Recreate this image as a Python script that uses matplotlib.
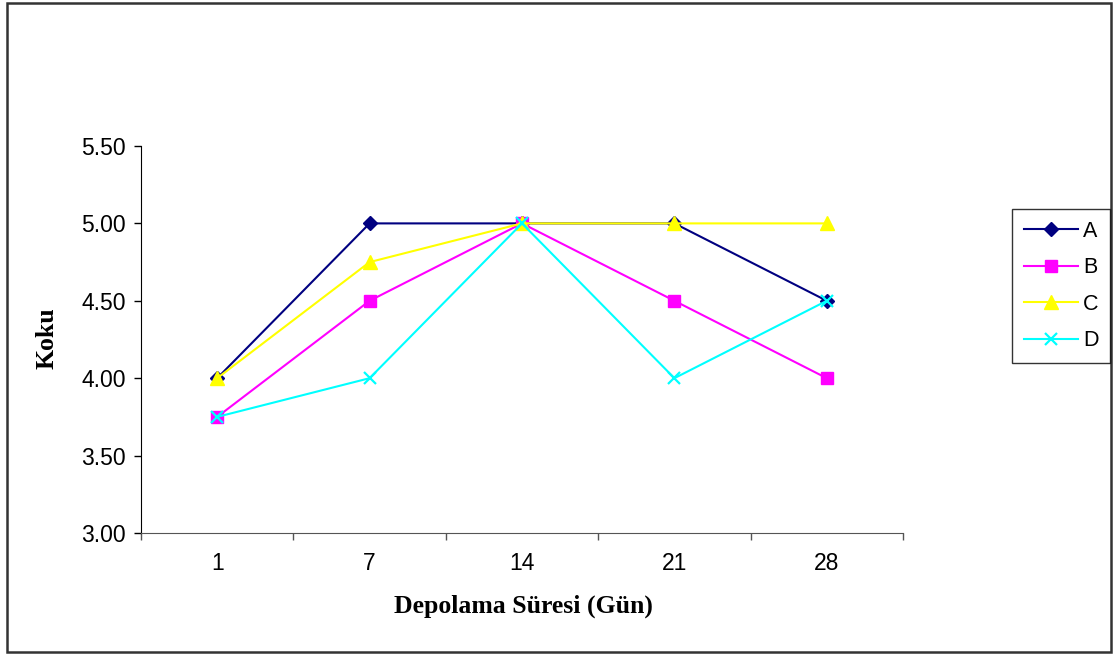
import matplotlib
matplotlib.use("Agg")
import matplotlib.pyplot as plt
from matplotlib.patches import Rectangle
from matplotlib.ticker import FixedLocator, NullFormatter

days = ["1", "7", "14", "21", "28"]
series_names = ["A", "B", "C", "D"]
values_a = [4.00, 5.00, 5.00, 5.00, 4.50]
values_b = [3.75, 4.50, 5.00, 4.50, 4.00]
values_c = [4.00, 4.75, 5.00, 5.00, 5.00]
values_d = [3.75, 4.00, 5.00, 4.00, 4.50]
y_ticks = [3.00, 3.50, 4.00, 4.50, 5.00, 5.50]

styles = [
    dict(color="#000080", marker="D", ms=7),
    dict(color="#FF00FF", marker="s", ms=8),
    dict(color="#FFFF00", marker="^", ms=10),
    dict(color="#00FFFF", marker="x", ms=9, mew=1.6),
]

fig = plt.figure(figsize=(11.13, 6.55), dpi=100)
fig.patch.set_facecolor("white")
fig.patches.append(Rectangle((0.006, 0.004), 0.992, 0.992, transform=fig.transFigure,
                             fill=False, edgecolor="#333333", linewidth=1.8))

ax = fig.add_axes([0.1267, 0.1863, 0.6846, 0.5908])
x = list(range(len(days)))
for name, vals, st in zip(series_names, [values_a, values_b, values_c, values_d], styles):
    ax.plot(x, vals, label=name, linewidth=1.5, clip_on=False, **st)

ax.set_xlim(-0.5, len(days) - 0.5)
ax.set_ylim(3.0, 5.5)
ax.set_yticks(y_ticks)
ax.set_yticklabels([f"{v:.2f}" for v in y_ticks], fontfamily="Liberation Sans", fontsize=16.5)

ax.set_xticks(x)
ax.set_xticklabels(days, fontfamily="Liberation Sans", fontsize=16.5)
ax.tick_params(axis="x", which="major", length=0, pad=14)
ax.xaxis.set_minor_locator(FixedLocator([i - 0.5 for i in range(len(days) + 1)]))
ax.xaxis.set_minor_formatter(NullFormatter())
ax.tick_params(axis="x", which="minor", length=5, width=1, color="#555555", direction="out")
ax.tick_params(axis="y", length=5, width=1, direction="out", pad=6)

for s in ["top", "right"]:
    ax.spines[s].set_visible(False)
ax.spines["left"].set_color("black")
ax.spines["bottom"].set_color("#555555")

fig.text(0.470, 0.075, "Depolama Süresi (Gün)", ha="center", va="center",
         fontfamily="Liberation Serif", fontweight="bold", fontsize=18.5)
fig.text(0.042, 0.484, "Koku", ha="center", va="center", rotation=90,
         fontfamily="Liberation Serif", fontweight="bold", fontsize=18.5)

leg = fig.legend(loc="upper left", bbox_to_anchor=(0.9093, 0.681), frameon=True,
                 fancybox=False, edgecolor="black", handlelength=2.5,
                 labelspacing=0.72, borderpad=0.55, handletextpad=0.25, borderaxespad=0,
                 prop={"family": "Liberation Sans", "size": 15.5})
leg.get_frame().set_linewidth(1.0)

fig.savefig("out.png", dpi=100, facecolor="white")
